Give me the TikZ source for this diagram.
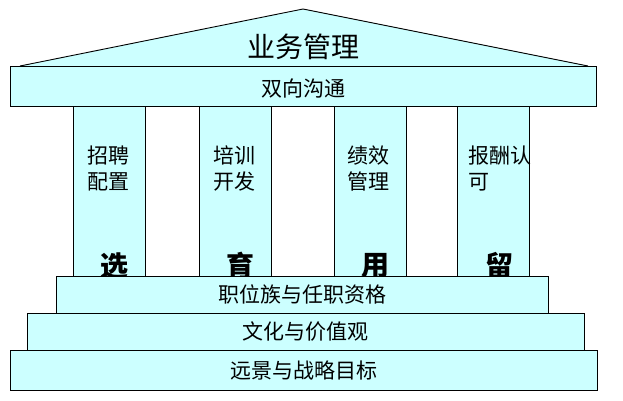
\documentclass[tikz,border=0pt]{standalone}
\usepackage{fontspec}
\newfontfamily\cjk{Noto Sans CJK SC}
\definecolor{pil}{RGB}{204,255,255}
\begin{document}
\begin{tikzpicture}[x=1pt,y=-1pt,
  box/.style={draw=black, fill=pil, line width=0.9pt, inner sep=0pt},
  bartxt/.style={font=\cjk\fontsize{21}{26}\selectfont},
  pilltxt/.style={inner sep=0pt, anchor=north west, align=left, font=\cjk\fontsize{21}{26}\selectfont},
  bigtxt/.style={inner sep=0pt, font=\cjk\bfseries\fontsize{28}{30}\selectfont}]
\useasboundingbox (0,0) rectangle (623,400);
% roof
\coordinate (rl) at (20,66);
\coordinate (ra) at (303,9);
\coordinate (rr) at (588,66);
\draw[fill=pil, line width=0.9pt] (rl) -- (ra) -- (rr);
\node[inner sep=0pt, font=\cjk\fontsize{28}{30}\selectfont] (title) at (303,47) {业务管理};
% communication bar
\node[box, minimum width=586pt, minimum height=40pt] (comm) at (303,86) {};
\node[inner sep=0pt, bartxt] (commtxt) at (303,89) {双向沟通};
% pillars
\node[box, minimum width=72pt, minimum height=170pt] (p1) at (109,191.5) {};
\node[box, minimum width=72pt, minimum height=170pt] (p2) at (235,191.5) {};
\node[box, minimum width=72pt, minimum height=170pt] (p3) at (370,191.5) {};
\node[box, minimum width=72pt, minimum height=170pt] (p4) at (493,191.5) {};
\node[pilltxt] (t1) at (87,146) {招聘\\配置};
\node[pilltxt] (t2) at (213,146) {培训\\开发};
\node[pilltxt] (t3) at (347,146) {绩效\\管理};
\node[pilltxt] (t4) at (468,146) {报酬认\\可};
\node[bigtxt] (c1) at (114.5,266) {选};
\node[bigtxt] (c2) at (240.5,266) {育};
\node[bigtxt] (c3) at (375.5,266) {用};
\node[bigtxt] (c4) at (499.5,266) {留};
% base bars
\node[box, bartxt, minimum width=492pt, minimum height=37pt] (job) at (302,294.5) {职位族与任职资格};
\node[box, bartxt, minimum width=557pt, minimum height=37pt] (cult) at (305.5,331.5) {文化与价值观};
\node[box, bartxt, minimum width=587pt, minimum height=40pt] (vis) at (303.5,370) {远景与战略目标};
\end{tikzpicture}
\end{document}
